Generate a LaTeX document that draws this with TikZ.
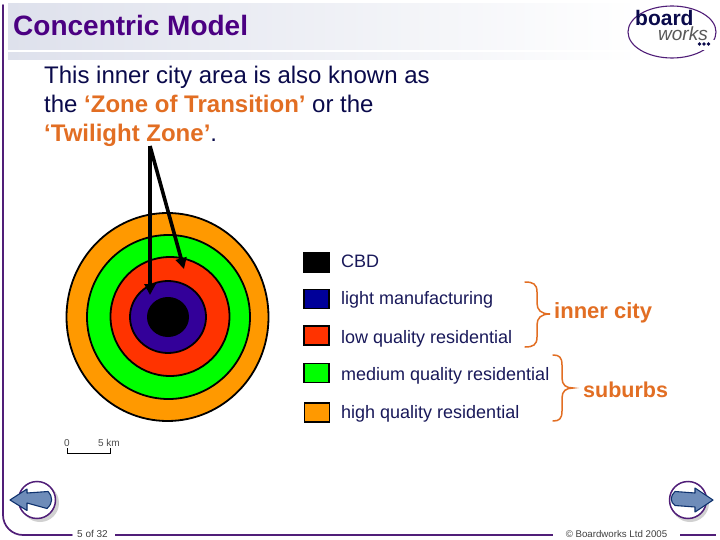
\documentclass[tikz,border=0pt]{standalone}
\usepackage{fontspec}
\setmainfont{Liberation Sans}
\usetikzlibrary{arrows.meta,calc}
\definecolor{ttl}{RGB}{75,0,130}
\definecolor{frm}{RGB}{80,30,120}
\definecolor{bodyc}{RGB}{10,10,75}
\definecolor{org}{RGB}{226,110,35}
\definecolor{oz}{RGB}{255,153,0}
\definecolor{gz}{RGB}{0,255,0}
\definecolor{rz}{RGB}{255,51,0}
\definecolor{bz}{RGB}{51,0,153}
\definecolor{lmb}{RGB}{0,0,153}
\definecolor{navc}{RGB}{110,140,185}
\definecolor{navd}{RGB}{15,50,110}
\definecolor{leglab}{RGB}{25,25,90}
\definecolor{band}{RGB}{222,225,236}
\tikzset{
 x=1pt,y=-1pt,
 zone/.style={draw=black,line width=1.8pt},
 swatch/.style={draw=black,line width=1.8pt,minimum width=25pt,minimum height=19pt,inner sep=0pt},
 leglabel/.style={anchor=base west,inner sep=0pt,text=leglab,font=\fontsize{18}{20}\selectfont},
 body/.style={anchor=base west,inner sep=0pt,text=bodyc,font=\fontsize{24}{28}\selectfont},
 ptr/.style={line width=3.6pt,-{Triangle[length=11pt,width=11pt]}},
 brace/.style={draw=org,line width=1.5pt,line cap=round},
 rim/.style={draw=frm,line width=1.7pt},
 navdisc/.style={circle,draw=frm,line width=1.5pt,minimum size=37pt,inner sep=0pt,fill=white},
 navshadow/.style={circle,fill=black!18,minimum size=38pt,inner sep=0pt},
 navarrow/.style={draw=navd,line width=1.1pt,fill=navc,line join=round},
 foot/.style={inner sep=0pt,text=black!75},
}
\begin{document}
\begin{tikzpicture}
\useasboundingbox (0,0) rectangle (720,540);
\fill[white] (0,0) rectangle (720,540);
% header bands
\shade[left color=band,right color=white] (8,4) rectangle (640,50);
\shade[left color=band,right color=white] (8,53) rectangle (640,60);
% frame
\draw[rim,line cap=round,rounded corners=20pt] (3,5) -- (3,535) -- (72,535);
\draw[rim] (115,535) -- (553,535);
\draw[rim] (680,535) -- (716,535);
% title
\node[anchor=base west,inner sep=0pt,text=ttl,font=\fontsize{28}{30}\selectfont\bfseries] (title) at (13,35.5) {Concentric Model};
% logo
\draw[frm,line width=1.1pt] (672,32) ellipse [x radius=44pt,y radius=26pt];
\fill[white] (698,40) rectangle (716,50);
\node[anchor=base west,inner sep=0pt,text=bodyc,font=\fontsize{21}{24}\selectfont\bfseries] (logoa) at (635,26) {board};
\node[anchor=base west,inner sep=0pt,text=black!65,font=\fontsize{19}{22}\selectfont\itshape] (logob) at (658,40.5) {works};
\foreach \i in {0,1,2} \fill[bodyc] (699.5+\i*4.5,44) circle (1.8pt);
% body text
\node[body] (l1) at (44,83.5) {This inner city area is also known as};
\node[body] (l2) at (44,112.5) {the \textcolor{org}{\bfseries ‘Zone of Transition’} or the};
\node[body] (l3) at (44,141.5) {\textcolor{org}{\bfseries ‘Twilight Zone’}.};
% zones
\draw[zone,fill=oz] (167.5,317) ellipse [x radius=101pt,y radius=104pt];
\draw[zone,fill=gz] (168.5,317) ellipse [x radius=81.5pt,y radius=82pt];
\draw[zone,fill=rz] (170,316.5) ellipse [x radius=59.5pt,y radius=59.5pt];
\draw[zone,fill=bz] (168,317) ellipse [x radius=38pt,y radius=36pt];
\fill[black] (168,317) ellipse [x radius=21pt,y radius=20pt];
% pointers
\coordinate (ps) at (150,146);
\coordinate (pa) at (150,295);
\coordinate (pb) at (184,269);
\draw[ptr] (ps) -- (pa);
\draw[ptr] (ps) -- (pb);
% legend
\node[swatch,fill=black] (k1) at (316.5,262.5) {};
\node[swatch,fill=lmb] (k2) at (316.5,299) {};
\node[swatch,fill=rz] (k3) at (316.5,335.5) {};
\node[swatch,fill=gz] (k4) at (316.5,373) {};
\node[swatch,fill=oz] (k5) at (317,412.5) {};
\node[leglabel] (t1) at (341,267) {CBD};
\node[leglabel] (t2) at (341,304) {light manufacturing};
\node[leglabel] (t3) at (341,343) {low quality residential};
\node[leglabel] (t4) at (341,380) {medium quality residential};
\node[leglabel] (t5) at (341,418) {high quality residential};
% braces
\draw[brace] (525,282) .. controls (533,282) and (537,284) .. (537,292) -- (537,303) .. controls (537,310) and (541,314) .. (550,314) .. controls (541,314) and (537,318) .. (537,325) -- (537,337) .. controls (537,345) and (533,347) .. (525,347);
\draw[brace] (553,355) .. controls (559,355) and (562,357) .. (562,365) -- (562,378) .. controls (562,385) and (566,388) .. (573,388) .. controls (566,388) and (562,391) .. (562,398) -- (562,411) .. controls (562,419) and (559,421) .. (553,421);
\node[anchor=base west,inner sep=0pt,text=org,font=\fontsize{22}{26}\selectfont\bfseries] (ic) at (554,318) {inner city};
\node[anchor=base west,inner sep=0pt,text=org,font=\fontsize{21.5}{26}\selectfont\bfseries] (sb) at (583,397) {suburbs};
% scale
\node[inner sep=0pt,text=black!70,font=\fontsize{10}{11}\selectfont] (s0) at (67,443) {0};
\node[inner sep=0pt,text=black!70,font=\fontsize{10}{11}\selectfont] (s5) at (109,443) {5 km};
\draw[black,line width=1pt] (67,448) -- (67,453.5) -- (110,453.5) -- (110,448);
% nav buttons
\node[navshadow] (ns1) at (40,503) {};
\node[navdisc] (n1) at (37,500) {};
\draw[navarrow] (10,500) -- (27,489) -- (27,493) -- (48,491.5) .. controls (53,497) and (53,503) .. (47,508.5) -- (27,503) -- (27,510.5) -- cycle;
\node[navshadow] (ns2) at (690,503) {};
\node[navdisc] (n2) at (688,500) {};
\draw[navarrow] (713,500) -- (695,488) -- (695,493) -- (675,491.5) .. controls (670,496) and (670,502) .. (675,505.5) -- (695,507) -- (695,512) -- cycle;
% footer
\node[foot,anchor=center,font=\fontsize{10}{11}\selectfont] (pg) at (92.5,534) {5 of 32};
\node[foot,anchor=center,font=\fontsize{9.7}{11}\selectfont] (cr) at (616.5,534.5) {© Boardworks Ltd 2005};
\end{tikzpicture}
\end{document}
